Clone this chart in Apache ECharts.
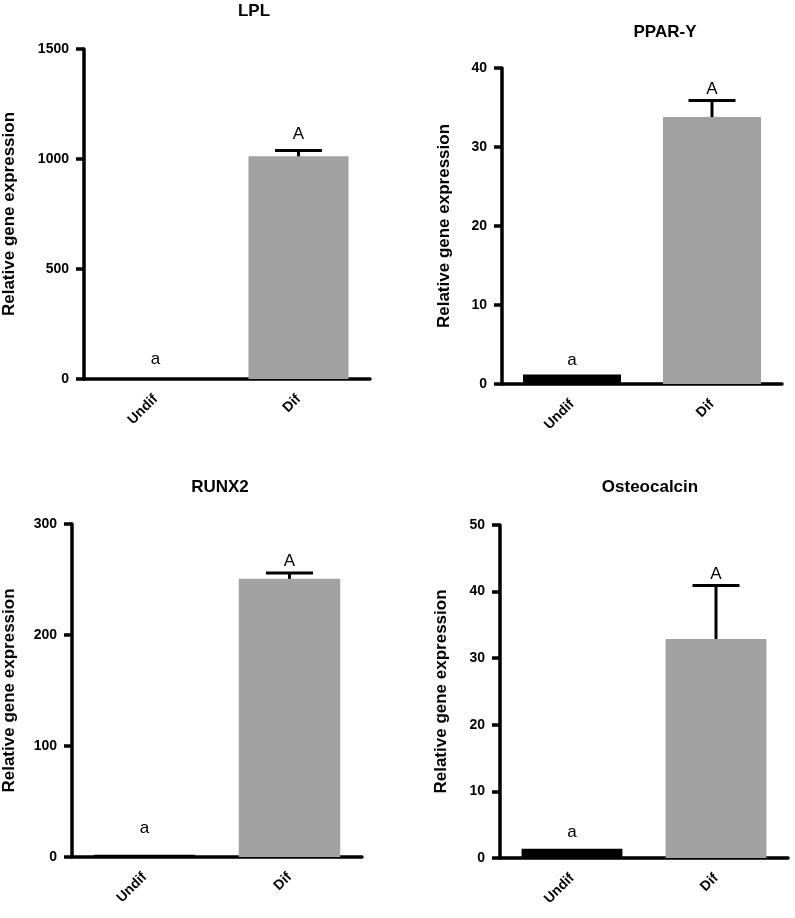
<!DOCTYPE html>
<html>
<head>
<meta charset="utf-8">
<script src="https://cdn.jsdelivr.net/npm/echarts@6/dist/echarts.min.js"></script>
<style>
html,body{margin:0;padding:0;background:#fff;}
#chart{width:795px;height:918px;}
</style>
</head>
<body>
<div id="chart"></div>
<script>
// ---- data ----
const categories = ['Undif', 'Dif'];
const panelTitles = ['LPL', 'PPAR-Y', 'RUNX2', 'Osteocalcin'];
const yAxisName = 'Relative gene expression';
const lplMeans = [1, 1012];
const lplErrors = [0.5, 27];
const pparMeans = [1.2, 33.8];
const pparErrors = [0.1, 2.1];
const runx2Means = [2, 250.7];
const runx2Errors = [0.3, 5.1];
const osteoMeans = [1.4, 32.9];
const osteoErrors = [0.1, 8.0];
const letters = ['a', 'A'];
const yMaxes = [1500, 40, 300, 50];
const yIntervals = [500, 10, 100, 10];

const means = [lplMeans, pparMeans, runx2Means, osteoMeans];
const errors = [lplErrors, pparErrors, runx2Errors, osteoErrors];

// ---- layout (positions/styles) ----
const grids = [
  {left: 82, top: 49, width: 288, height: 330},
  {left: 502, top: 68, width: 280, height: 316},
  {left: 70, top: 524, width: 292, height: 333},
  {left: 500, top: 525, width: 288, height: 333}
];
const titlePos = [[254, 11], [665, 32], [220, 487], [650, 487]];
const nameGaps = [66, 49, 54, 50];
const lowerGaps = [11, 5, 18, 7];
const upperGaps = [8, 3, 3, 3];
const barColors = ['#000000', '#a2a2a2'];
const FONT = 'Arial, "Liberation Sans", Helvetica, sans-serif';

const chart = echarts.init(document.getElementById('chart'), null, {renderer: 'canvas'});

const xAxes = [], yAxes = [], series = [], graphics = [];
for (let p = 0; p < 4; p++) {
  xAxes.push({
    type: 'category', gridIndex: p, data: categories,
    axisLine: {lineStyle: {color: '#000', width: 3.5}},
    axisTick: {alignWithLabel: true, length: 9, lineStyle: {color: '#000', width: 3.5}},
    axisLabel: {rotate: 45, margin: 18, color: '#000', fontWeight: 'bold', fontSize: 14, fontFamily: FONT},
    splitLine: {show: false}
  });
  yAxes.push({
    type: 'value', gridIndex: p, min: 0, max: yMaxes[p], interval: yIntervals[p],
    name: yAxisName, nameLocation: 'middle', nameGap: nameGaps[p], nameRotate: 90,
    nameTextStyle: {color: '#000', fontWeight: 'bold', fontSize: 17, fontFamily: FONT},
    axisLine: {show: true, lineStyle: {color: '#000', width: 3.5}},
    axisTick: {show: true, length: 8, lineStyle: {color: '#000', width: 3.5}},
    axisLabel: {margin: 15, color: '#000', fontWeight: 'bold', fontSize: 14, fontFamily: FONT,
                formatter: v => String(v)},
    splitLine: {show: false}
  });
  series.push({
    type: 'bar', xAxisIndex: p, yAxisIndex: p, barWidth: '70%',
    data: means[p].map((v, i) => ({value: v, itemStyle: {color: barColors[i]}})),
    silent: true, animation: false
  });
  const panel = p;
  series.push({
    type: 'custom', xAxisIndex: p, yAxisIndex: p, silent: true, animation: false,
    encode: {x: 0, y: 1},
    data: means[p].map((v, i) => [i, v, errors[p][i]]),
    renderItem: function (params, api) {
      const idx = params.dataIndex;
      const cat = api.value(0), m = api.value(1), e = api.value(2);
      const top = api.coord([cat, m + e]);
      const base = api.coord([cat, m]);
      const half = 23.5;
      const gap = idx === 0 ? lowerGaps[panel] : upperGaps[panel];
      const children = [];
      if (base[1] - top[1] > 3) {
        children.push(
          {type: 'line', shape: {x1: top[0], y1: top[1], x2: top[0], y2: base[1] + 2},
           style: {stroke: '#000', lineWidth: 3}},
          {type: 'line', shape: {x1: top[0] - half, y1: top[1], x2: top[0] + half, y2: top[1]},
           style: {stroke: '#000', lineWidth: 3}}
        );
      }
      children.push(
        {type: 'text', style: {text: letters[idx], x: top[0], y: top[1] - gap,
         textAlign: 'center', textVerticalAlign: 'bottom', fill: '#000',
         font: '17px ' + FONT}}
      );
      return {type: 'group', children: children};
    }
  });
  graphics.push({
    type: 'text',
    x: titlePos[p][0], y: titlePos[p][1],
    style: {text: panelTitles[p], textAlign: 'center', textVerticalAlign: 'middle',
            fill: '#000', font: 'bold 17px ' + FONT}
  });
}

chart.setOption({
  backgroundColor: '#fff',
  animation: false,
  grid: grids,
  xAxis: xAxes,
  yAxis: yAxes,
  series: series,
  graphic: graphics
});
</script>
</body>
</html>
